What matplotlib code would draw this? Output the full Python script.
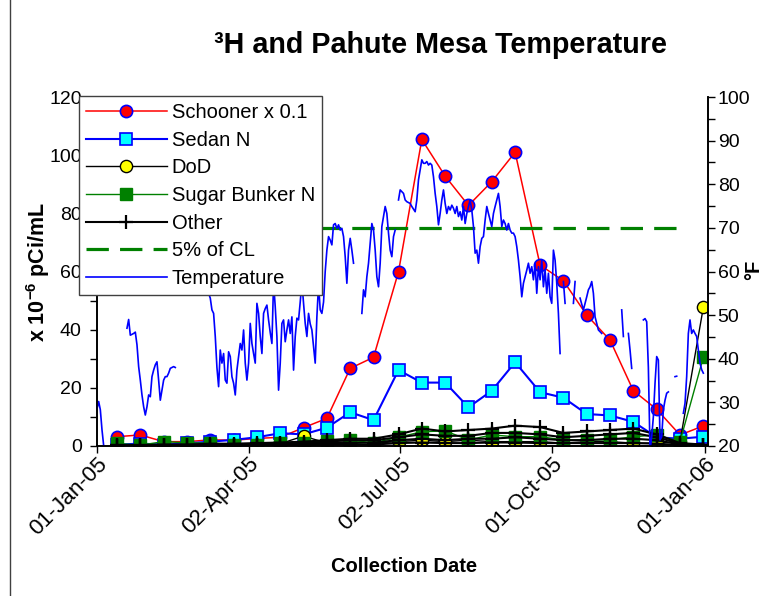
import numpy as np
import matplotlib
matplotlib.use('Agg')
import matplotlib.pyplot as plt
import matplotlib.dates as mdates
from matplotlib.ticker import MultipleLocator

plt.rcParams['font.family'] = ['Liberation Sans', 'DejaVu Sans']
plt.rcParams['mathtext.fontset'] = 'custom'
plt.rcParams['mathtext.rm'] = 'Liberation Sans'
plt.rcParams['mathtext.bf'] = 'Liberation Sans:bold'

# sampling dates (biweekly)
sample_dates = ['2005-01-13', '2005-01-27', '2005-02-10', '2005-02-24', '2005-03-10',
                '2005-03-24', '2005-04-07', '2005-04-21', '2005-05-05', '2005-05-19',
                '2005-06-02', '2005-06-16', '2005-07-01', '2005-07-15', '2005-07-29',
                '2005-08-12', '2005-08-26', '2005-09-09', '2005-09-24', '2005-10-08',
                '2005-10-22', '2005-11-05', '2005-11-19', '2005-12-03', '2005-12-17',
                '2005-12-31']

schooner = [3.2, 3.8, 1.5, 1.5, 2.1, 2.0, 2.6, 3.0, 6.3, 9.5, 26.7, 30.5, 59.9,
            105.4, 92.8, 82.7, 90.9, 101.0, 62.2, 56.8, 45.0, 36.4, 19.0, 12.6, 3.8, 6.9]
sedan = [0.5, 0.8, 0.5, 0.9, 1.5, 2.1, 3.0, 4.4, 4.0, 6.3, 11.6, 8.9, 26.1,
         21.8, 21.8, 13.3, 19.0, 28.8, 18.5, 16.6, 11.0, 10.5, 8.3, 3.0, 2.5, 3.2]
dod = [0.3, 0.3, 0.5, 0.5, 0.5, 0.1, 0.5, 0.8, 3.4, 1.0, 1.5, 1.0, 1.5,
       2.0, 1.5, 2.0, 1.5, 1.5, 1.5, 1.0, 1.5, 1.5, 1.0, 1.0, 1.5, 47.7]
sugar_bunker = [0.9, 0.3, 1.5, 1.1, 1.0, 0.5, 0.5, 0.9, 1.0, 1.8, 2.0, 1.1, 3.0,
                4.9, 5.2, 2.1, 3.8, 3.2, 3.2, 2.1, 2.1, 2.1, 3.2, 3.8, 1.5, 30.5]
other_a = [0.3, 0.3, 0.5, 0.5, 0.8, 0.8, 1.0, 1.2, 1.5, 2.0, 2.5, 2.5, 4.0,
           6.0, 5.0, 5.5, 6.0, 7.0, 6.5, 4.5, 5.0, 5.5, 6.0, 4.0, 1.0, 0.5]
other_b = [0.2, 0.2, 0.3, 0.3, 0.5, 0.5, 0.8, 1.0, 1.0, 1.5, 2.0, 2.0, 3.0,
           4.0, 3.5, 3.5, 4.5, 4.5, 4.0, 3.0, 3.5, 4.0, 4.5, 3.0, 0.8, 0.5]
other_c = [0.1, 0.1, 0.2, 0.2, 0.3, 0.3, 0.5, 0.5, 0.8, 1.0, 1.0, 1.2, 2.0,
           2.5, 2.0, 2.5, 2.5, 3.0, 2.5, 2.0, 2.0, 2.5, 2.5, 2.0, 0.5, 0.3]
other_d = [0.0, 0.0, 0.1, 0.1, 0.1, 0.2, 0.2, 0.3, 0.3, 0.5, 0.5, 0.5, 1.0,
           1.2, 1.0, 1.0, 1.2, 1.2, 1.0, 1.0, 1.0, 1.0, 1.0, 0.8, 0.3, 0.2]
cl_5pct = 75

# daily Pahute Mesa temperature (F), runs of consecutive days with gaps between
temp_run_starts = ['2005-01-01', '2005-01-19', '2005-03-08', '2005-06-09', '2005-07-01',
                   '2005-10-08', '2005-10-14', '2005-10-18', '2005-11-12', '2005-11-16',
                   '2005-11-25', '2005-12-14', '2005-12-19']
temp_runs = [
    [28.5, 30.2, 28.3, 23.7, 20.1, 18.0],
    [47.0, 49.0, 45.4, 45.6, 45.8, 46.1, 43.2, 38.2, 35.1, 31.7,
     29.0, 27.1, 29.0, 31.7, 31.3, 35.9, 37.4, 38.6, 39.3, 35.1,
     30.5, 32.8, 35.1, 35.9, 35.9, 36.7, 37.8, 38.0, 38.2, 38.0],
    [58.0, 55.0, 53.9, 51.2, 50.4, 45.1, 38.0, 33.6, 42.0, 39.0,
     41.2, 35.1, 34.4, 41.6, 40.5, 35.9, 34.4, 31.7, 37.4, 40.5,
     43.5, 42.0, 46.6, 39.0, 35.1, 39.0, 48.1, 43.5, 41.2, 39.0,
     52.7, 50.4, 45.1, 41.2, 50.4, 51.5, 52.3, 48.9, 46.0, 43.5,
     57.5, 51.9, 45.1, 32.8, 39.0, 48.1, 48.9, 43.9, 46.6, 48.9,
     45.8, 49.6, 37.4, 45.1, 49.3, 48.9, 53.0, 57.5, 52.7, 48.1,
     45.1, 50.4, 48.0, 46.6, 42.8, 39.0, 49.6, 57.0, 51.2, 50.4,
     53.0, 60.0, 64.9, 68.0, 67.2, 66.1, 70.7, 71.0, 69.9, 70.7,
     69.5, 69.9, 68.0, 63.4, 57.3, 64.9, 67.6, 64.9, 61.9],
    [50.4, 55.8, 54.2, 58.8, 61.9, 66.5, 71.0, 69.5, 64.9, 58.8,
     56.5, 61.9, 70.3, 72.6, 74.9, 73.3, 68.8, 64.9, 63.4, 68.0, 69.5],
    [76.4, 78.7, 78.3, 77.9, 76.4, 76.0, 75.8, 75.6, 74.9, 74.3,
     73.7, 76.4, 81.0, 83.3, 85.6, 84.8, 84.8, 85.2, 84.4, 84.8,
     84.4, 81.7, 77.9, 74.9, 70.7, 73.3, 76.4, 78.7, 75.6, 73.3,
     74.9, 74.1, 75.2, 74.5, 73.3, 74.9, 72.6, 73.7, 71.8, 74.9,
     71.0, 73.3, 74.9, 76.4, 74.1, 70.3, 64.2, 64.9, 61.9, 65.7,
     67.6, 68.0, 71.8, 74.9, 73.3, 71.8, 70.3, 73.3, 74.9, 76.4,
     77.9, 74.9, 70.3, 71.8, 71.0, 69.5, 71.0, 69.5, 68.8, 68.8,
     68.0, 65.7, 62.6, 58.8, 54.2, 57.3, 58.8, 60.3, 61.9, 59.6,
     61.1, 58.1, 61.9, 55.0, 61.1, 58.1, 62.6, 56.5, 60.3, 55.0,
     59.6, 54.2, 52.7, 64.9, 62.6, 57.3, 50.4, 41.2],
    [57.7, 52.7],
    [52.7, 57.7],
    [53.9, 52.5, 51.2, 52.7, 54.2, 55.8, 56.5, 57.7, 55.0, 49.6, 48.1, 46.6, 46.2, 45.8],
    [51.2, 45.1],
    [45.8, 42.0, 37.8],
    [48.9, 49.2, 48.5, 38.0, 19.0, 22.1, 26.7, 34.4, 40.5, 39.7,
     21.4, 22.1, 28.3, 30.5, 32.1, 32.4],
    [35.9, 36.0],
    [27.5, 29.8, 35.9, 45.8, 48.9, 45.8, 46.6, 45.8, 45.1, 42.0, 39.0, 37.5, 36.7],
]

tick_dates = ['2005-01-01', '2005-04-02', '2005-07-02', '2005-10-01', '2006-01-01']
tick_labels = ['01-Jan-05', '02-Apr-05', '02-Jul-05', '01-Oct-05', '01-Jan-06']

x = np.array(sample_dates, dtype='datetime64[D]')

fig = plt.figure(figsize=(7.75, 5.96), dpi=100)
ax = fig.add_axes([97 / 775, 1 - 446 / 596, (708 - 97) / 775, (446 - 97) / 596])
ax2 = ax.twinx()

h_sch, = ax.plot(x, schooner, color='#FF0000', lw=1.1, marker='o', ms=8.8,
                 mfc='#FF0000', mec='#0000FF', mew=1.2, label='Schooner x 0.1')
h_sed, = ax.plot(x, sedan, color='#0000FF', lw=1.5, marker='s', ms=8.8,
                 mfc='#00FFFF', mec='#0000FF', mew=1.2, label='Sedan N')
h_dod, = ax.plot(x, dod, color='black', lw=1.0, marker='o', ms=8.8,
                 mfc='#FFFF00', mec='black', mew=1.0, label='DoD')
h_sug, = ax.plot(x, sugar_bunker, color='#008000', lw=1.0, marker='s', ms=8.2,
                 mfc='#008000', mec='#008000', mew=1.0, label='Sugar Bunker N')
h_oth = None
for vals in [other_a, other_b, other_c, other_d]:
    h, = ax.plot(x, vals, color='black', lw=1.5, marker='+', ms=10, mew=1.6,
                 label='Other')
    if h_oth is None:
        h_oth = h
h_cl, = ax.plot(x[:-1], [cl_5pct] * (len(x) - 1), color='#008000', lw=2.3,
                linestyle=(0, (7.0, 3.5)), label='5% of CL')

h_tmp = None
for start, vals in zip(temp_run_starts, temp_runs):
    d = np.datetime64(start) + np.arange(len(vals))
    h, = ax2.plot(d, vals, color='#0000FF', lw=1.2, label='Temperature')
    if h_tmp is None:
        h_tmp = h

x0 = mdates.date2num(np.datetime64('2005-01-01'))
ax.set_xlim(x0, x0 + 366.8)
ax.set_ylim(0, 120)
ax2.set_ylim(20, 100)

ax.set_xticks(np.array(tick_dates, dtype='datetime64[D]'))
ax.set_xticklabels(tick_labels, rotation=45, ha='right', va='top',
                   rotation_mode='anchor', fontsize=16)
ax.yaxis.set_major_locator(MultipleLocator(20))
ax.yaxis.set_minor_locator(MultipleLocator(10))
ax2.yaxis.set_major_locator(MultipleLocator(10))
ax2.yaxis.set_minor_locator(MultipleLocator(5))
ax.tick_params(axis='y', which='both', direction='out', length=5, width=1,
               labelsize=14, pad=6)
ax.tick_params(axis='x', which='both', direction='out', length=5, width=1, pad=0.5)
ax2.tick_params(axis='y', which='both', direction='out', length=5, width=1,
                labelsize=14, pad=2)

for a in (ax, ax2):
    a.spines['top'].set_visible(False)
    for s in ('left', 'right', 'bottom'):
        a.spines[s].set_linewidth(1.2)

fig.text(440 / 775, 1 - 45 / 596, '\u00b3H and Pahute Mesa Temperature',
         ha='center', va='center', fontsize=20.7, fontweight='bold')
fig.text(38 / 775, 1 - 272 / 596, r'x 10$^{\mathbf{-6}}$ pCi/mL', rotation=90,
         ha='center', va='center', fontsize=15.5, fontweight='bold')
fig.text(754 / 775, 1 - 270 / 596, '\u00b0F', rotation=90,
         ha='center', va='center', fontsize=14.5, fontweight='bold')
fig.text(404 / 775, 1 - 567 / 596, 'Collection Date',
         ha='center', va='center', fontsize=14.5, fontweight='bold')

leg = fig.legend([h_sch, h_sed, h_dod, h_sug, h_oth, h_cl, h_tmp],
                 ['Schooner x 0.1', 'Sedan N', 'DoD', 'Sugar Bunker N', 'Other',
                  '5% of CL', 'Temperature'],
                 loc='upper left', bbox_to_anchor=(79 / 775, 1 - 96 / 596),
                 borderaxespad=0, fontsize=14.5, handlelength=4.0,
                 handletextpad=0.25, labelspacing=0.43, borderpad=0.35,
                 fancybox=False, framealpha=1, edgecolor='#404040')
leg.get_frame().set_linewidth(1.0)

fig.add_artist(plt.Line2D([10 / 775, 10 / 775], [0, 1], color='#404040', lw=1.0))

fig.savefig('out.png', dpi=100)
